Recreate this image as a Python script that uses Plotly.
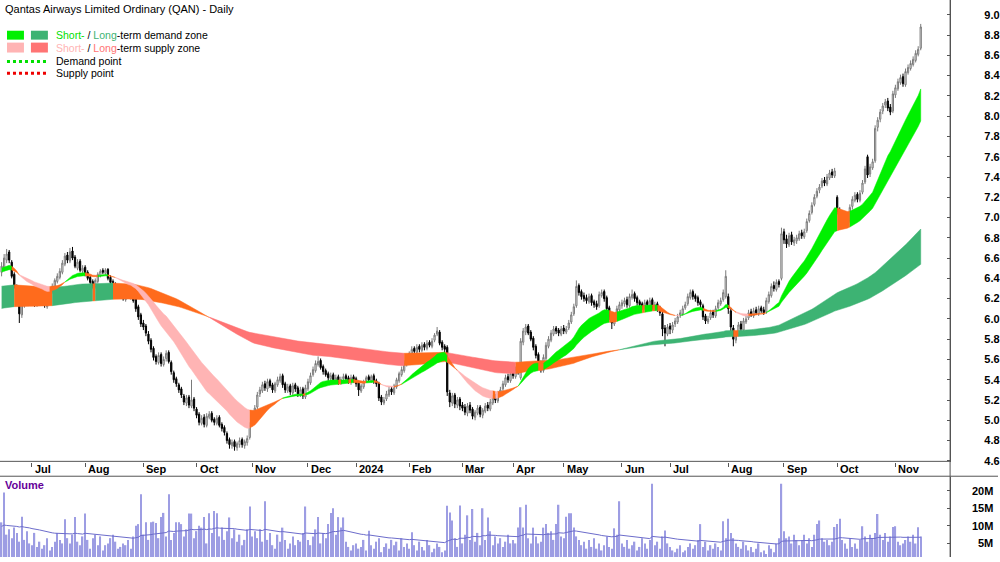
import numpy as np
import pandas as pd
import plotly.graph_objects as go

W, H = 1000, 562
FONT = "Liberation Sans, Arial, sans-serif"

# ---------------- data ----------------
start_date = "2023-06-15"
asx_holidays = ["2023-12-25", "2023-12-26", "2024-01-01", "2024-01-26",
                "2024-03-29", "2024-04-01", "2024-04-25", "2024-06-10"]

opens = [
    # Jun 2023
    6.46, 6.50, 6.58, 6.66, 6.56, 6.44, 6.32, 6.20, 6.04, 6.14, 6.24, 6.16,
    # Jul
    6.26, 6.22, 6.14, 6.25, 6.17, 6.23, 6.12, 6.18, 6.27, 6.31, 6.37, 6.41, 6.46, 6.54, 6.63, 6.57, 6.67, 6.61, 6.50, 6.57, 6.47,
    # Aug
    6.51, 6.46, 6.41, 6.37, 6.32, 6.37, 6.43, 6.48, 6.45, 6.49, 6.41, 6.37, 6.34, 6.31, 6.27, 6.25, 6.19, 6.26, 6.21, 6.29, 6.20, 6.12, 6.04,
    # Sep
    5.96, 5.93, 5.85, 5.79, 5.71, 5.63, 5.57, 5.65, 5.55, 5.61, 5.67, 5.57, 5.47, 5.41, 5.35, 5.31, 5.24, 5.17, 5.23, 5.14, 5.21,
    # Oct
    5.11, 5.06, 4.97, 5.03, 4.95, 5.03, 5.07, 5.01, 4.97, 5.03, 4.96, 4.93, 4.87, 4.81, 4.75, 4.79, 4.73, 4.76, 4.81, 4.75, 4.78, 4.83,
    # Nov
    4.96, 5.06, 5.13, 5.26, 5.29, 5.36, 5.31, 5.39, 5.35, 5.29, 5.35, 5.39, 5.44, 5.36, 5.29, 5.34, 5.27, 5.35, 5.32, 5.25, 5.31, 5.23,
    # Dec
    5.31, 5.37, 5.45, 5.49, 5.55, 5.59, 5.53, 5.49, 5.46, 5.41, 5.45, 5.39, 5.43, 5.37, 5.41, 5.44, 5.42, 5.38, 5.43,
    # Jan 2024
    5.41, 5.37, 5.29, 5.33, 5.39, 5.43, 5.39, 5.44, 5.39, 5.36, 5.23, 5.17, 5.21, 5.25, 5.31, 5.27, 5.33, 5.39, 5.45, 5.49, 5.55,
    # Feb
    5.61, 5.65, 5.71, 5.67, 5.73, 5.69, 5.75, 5.71, 5.77, 5.73, 5.79, 5.85, 5.87, 5.77, 5.73, 5.72, 5.27, 5.17, 5.25, 5.15, 5.21,
    # Mar
    5.15, 5.13, 5.07, 5.15, 5.11, 5.03, 5.07, 5.13, 5.05, 5.09, 5.15, 5.11, 5.17, 5.23, 5.19, 5.25, 5.31, 5.35, 5.43, 5.39,
    # Apr
    5.47, 5.43, 5.51, 5.42, 5.77, 5.87, 5.93, 5.87, 5.81, 5.73, 5.65, 5.57, 5.49, 5.61, 5.73, 5.79, 5.85, 5.91, 5.89, 5.85,
    # May
    5.91, 5.87, 5.91, 5.97, 6.05, 6.13, 6.33, 6.27, 6.23, 6.21, 6.17, 6.23, 6.17, 6.15, 6.13, 6.23, 6.27, 6.21, 6.11, 6.03, 5.95, 6.01, 6.09,
    # Jun
    6.13, 6.15, 6.19, 6.13, 6.21, 6.25, 6.21, 6.17, 6.15, 6.11, 6.17, 6.13, 6.19, 6.11, 6.15, 6.11, 6.05, 5.91, 5.85,
    # Jul
    5.93, 5.89, 5.95, 5.97, 6.03, 6.05, 6.11, 6.15, 6.21, 6.27, 6.23, 6.21, 6.17, 6.13, 6.03, 5.97, 6.01, 6.07, 6.03, 6.11, 6.15, 6.19, 6.22,
    # Aug
    6.22, 6.08, 5.91, 5.79, 5.85, 5.95, 5.89, 5.97, 6.01, 6.07, 6.03, 6.09, 6.05, 6.11, 6.09, 6.07, 6.17, 6.23, 6.33, 6.29, 6.37, 6.40,
    # Sep
    6.86, 6.79, 6.73, 6.83, 6.75, 6.77, 6.79, 6.85, 6.81, 6.87, 6.97, 7.05, 7.13, 7.21, 7.27, 7.31, 7.37, 7.33, 7.39, 7.45, 7.41,
    # Oct
    7.20, 7.07, 7.01, 6.97, 7.03, 6.97, 7.11, 7.17, 7.23, 7.17, 7.25, 7.35, 7.60, 7.43, 7.49, 7.56, 7.89, 7.97, 8.05, 8.11, 8.15, 8.09, 8.05,
    # Nov
    8.21, 8.27, 8.33, 8.39, 8.31, 8.43, 8.47, 8.51, 8.55, 8.61, 8.67,
]

highs = [
    6.56, 6.64, 6.69, 6.68, 6.58, 6.46, 6.34, 6.22, 6.19, 6.26, 6.27, 6.29,
    6.29, 6.25, 6.27, 6.28, 6.25, 6.25, 6.22, 6.30, 6.35, 6.40, 6.45, 6.50, 6.58, 6.65, 6.66, 6.70, 6.71, 6.63, 6.59, 6.59, 6.53,
    6.53, 6.48, 6.43, 6.39, 6.40, 6.46, 6.49, 6.50, 6.50, 6.50, 6.43, 6.39, 6.36, 6.33, 6.29, 6.27, 6.27, 6.28, 6.31, 6.31, 6.22, 6.14, 6.06,
    5.99, 5.95, 5.88, 5.81, 5.73, 5.65, 5.67, 5.67, 5.63, 5.69, 5.69, 5.59, 5.49, 5.43, 5.37, 5.33, 5.26, 5.25, 5.25, 5.40, 5.23,
    5.13, 5.08, 5.05, 5.06, 5.07, 5.09, 5.09, 5.03, 5.05, 5.05, 4.98, 4.95, 4.89, 4.83, 4.81, 4.81, 4.79, 4.83, 4.83, 4.81, 4.85, 4.98,
    5.08, 5.15, 5.28, 5.33, 5.38, 5.39, 5.41, 5.41, 5.37, 5.38, 5.43, 5.46, 5.46, 5.38, 5.36, 5.36, 5.37, 5.37, 5.34, 5.33, 5.33, 5.35,
    5.41, 5.47, 5.53, 5.59, 5.63, 5.61, 5.55, 5.51, 5.48, 5.47, 5.47, 5.45, 5.45, 5.43, 5.46, 5.46, 5.44, 5.45, 5.45,
    5.43, 5.39, 5.36, 5.40, 5.44, 5.45, 5.45, 5.46, 5.41, 5.38, 5.25, 5.23, 5.29, 5.33, 5.33, 5.36, 5.42, 5.48, 5.53, 5.59, 5.63,
    5.68, 5.73, 5.73, 5.75, 5.75, 5.77, 5.77, 5.79, 5.79, 5.81, 5.86, 5.92, 5.89, 5.79, 5.75, 5.74, 5.30, 5.27, 5.27, 5.23, 5.23,
    5.18, 5.16, 5.17, 5.18, 5.13, 5.10, 5.15, 5.15, 5.12, 5.17, 5.18, 5.21, 5.25, 5.26, 5.29, 5.33, 5.39, 5.45, 5.46, 5.49,
    5.50, 5.53, 5.54, 5.81, 5.91, 5.95, 5.95, 5.89, 5.83, 5.75, 5.67, 5.59, 5.65, 5.77, 5.83, 5.89, 5.93, 5.93, 5.91, 5.93,
    5.94, 5.93, 5.99, 6.07, 6.15, 6.38, 6.35, 6.29, 6.26, 6.24, 6.25, 6.25, 6.19, 6.18, 6.27, 6.29, 6.29, 6.23, 6.13, 6.05, 6.03, 6.13, 6.17,
    6.19, 6.21, 6.22, 6.25, 6.29, 6.27, 6.23, 6.19, 6.17, 6.19, 6.19, 6.21, 6.21, 6.17, 6.17, 6.13, 6.07, 5.94, 5.95,
    5.96, 5.97, 6.01, 6.05, 6.09, 6.13, 6.17, 6.25, 6.29, 6.29, 6.25, 6.23, 6.19, 6.15, 6.05, 6.03, 6.09, 6.09, 6.13, 6.19, 6.21, 6.29, 6.48,
    6.25, 6.11, 5.94, 5.87, 5.97, 5.98, 6.01, 6.03, 6.09, 6.10, 6.11, 6.12, 6.13, 6.13, 6.12, 6.21, 6.27, 6.35, 6.37, 6.39, 6.39, 6.90,
    6.89, 6.83, 6.85, 6.86, 6.81, 6.83, 6.87, 6.88, 6.89, 6.99, 7.07, 7.15, 7.23, 7.29, 7.33, 7.39, 7.40, 7.43, 7.47, 7.48, 7.49,
    7.22, 7.10, 7.04, 7.05, 7.05, 7.13, 7.21, 7.25, 7.25, 7.27, 7.37, 7.51, 7.62, 7.53, 7.58, 7.91, 7.99, 8.07, 8.13, 8.17, 8.18, 8.12, 8.25,
    8.31, 8.37, 8.41, 8.42, 8.47, 8.51, 8.55, 8.59, 8.65, 8.69, 8.91,
]

lows = [
    6.42, 6.47, 6.55, 6.55, 6.40, 6.30, 6.17, 5.96, 6.01, 6.11, 6.14, 6.13,
    6.17, 6.12, 6.12, 6.16, 6.15, 6.11, 6.10, 6.16, 6.25, 6.29, 6.35, 6.39, 6.44, 6.52, 6.55, 6.55, 6.58, 6.50, 6.48, 6.46, 6.44,
    6.42, 6.38, 6.33, 6.30, 6.30, 6.35, 6.41, 6.44, 6.43, 6.38, 6.34, 6.31, 6.28, 6.24, 6.21, 6.18, 6.17, 6.20, 6.19, 6.16, 6.07, 5.99, 5.92,
    5.89, 5.83, 5.75, 5.67, 5.59, 5.55, 5.55, 5.53, 5.53, 5.58, 5.56, 5.45, 5.37, 5.33, 5.27, 5.22, 5.15, 5.14, 5.12, 5.12, 5.09,
    5.02, 4.95, 4.95, 4.93, 4.93, 5.01, 4.98, 4.95, 4.95, 4.93, 4.89, 4.85, 4.77, 4.72, 4.72, 4.70, 4.70, 4.73, 4.73, 4.72, 4.75, 4.81,
    4.94, 5.03, 5.11, 5.23, 5.27, 5.29, 5.28, 5.32, 5.27, 5.27, 5.33, 5.37, 5.32, 5.27, 5.27, 5.25, 5.25, 5.28, 5.23, 5.23, 5.21, 5.21,
    5.29, 5.35, 5.43, 5.47, 5.53, 5.50, 5.45, 5.43, 5.39, 5.39, 5.37, 5.37, 5.35, 5.35, 5.38, 5.38, 5.36, 5.35, 5.37,
    5.33, 5.24, 5.27, 5.31, 5.37, 5.38, 5.37, 5.36, 5.33, 5.19, 5.15, 5.15, 5.19, 5.23, 5.25, 5.25, 5.31, 5.37, 5.43, 5.47, 5.53,
    5.59, 5.63, 5.65, 5.65, 5.67, 5.67, 5.69, 5.69, 5.72, 5.71, 5.77, 5.83, 5.74, 5.69, 5.67, 5.24, 5.13, 5.14, 5.12, 5.12, 5.10,
    5.09, 5.05, 5.04, 5.07, 5.01, 5.00, 5.05, 5.03, 5.02, 5.07, 5.09, 5.09, 5.15, 5.17, 5.17, 5.23, 5.29, 5.33, 5.37, 5.37,
    5.41, 5.41, 5.45, 5.40, 5.74, 5.84, 5.84, 5.78, 5.69, 5.61, 5.53, 5.47, 5.47, 5.59, 5.71, 5.77, 5.83, 5.85, 5.83, 5.83,
    5.85, 5.85, 5.89, 5.95, 6.03, 6.11, 6.23, 6.19, 6.17, 6.15, 6.15, 6.13, 6.11, 6.09, 6.11, 6.21, 6.17, 6.07, 5.99, 5.90, 5.93, 5.99, 6.07,
    6.10, 6.12, 6.11, 6.11, 6.19, 6.17, 6.13, 6.11, 6.09, 6.09, 6.11, 6.11, 6.09, 6.08, 6.07, 6.03, 5.83, 5.73, 5.83,
    5.85, 5.86, 5.92, 5.95, 6.01, 6.03, 6.09, 6.13, 6.19, 6.19, 6.17, 6.13, 6.11, 5.99, 5.95, 5.95, 5.99, 6.01, 6.01, 6.09, 6.13, 6.17, 6.20,
    6.05, 5.88, 5.73, 5.76, 5.83, 5.87, 5.87, 5.95, 5.99, 6.02, 6.01, 6.04, 6.03, 6.06, 6.04, 6.05, 6.15, 6.21, 6.27, 6.27, 6.31, 6.38,
    6.74, 6.70, 6.71, 6.73, 6.72, 6.74, 6.77, 6.79, 6.79, 6.85, 6.95, 7.03, 7.11, 7.19, 7.24, 7.29, 7.31, 7.31, 7.37, 7.39, 7.39,
    7.03, 6.97, 6.94, 6.94, 6.93, 6.95, 7.08, 7.15, 7.15, 7.15, 7.23, 7.33, 7.39, 7.40, 7.47, 7.54, 7.85, 7.94, 8.02, 8.08, 8.05, 8.01, 8.03,
    8.18, 8.25, 8.31, 8.29, 8.29, 8.41, 8.45, 8.49, 8.53, 8.59, 8.65,
]

closes = [
    6.52, 6.60, 6.64, 6.58, 6.42, 6.33, 6.20, 6.05, 6.16, 6.22, 6.18, 6.25,
    6.20, 6.15, 6.24, 6.18, 6.22, 6.14, 6.19, 6.28, 6.32, 6.38, 6.42, 6.47, 6.55, 6.62, 6.58, 6.66, 6.60, 6.52, 6.56, 6.48, 6.50,
    6.45, 6.40, 6.36, 6.33, 6.38, 6.44, 6.47, 6.46, 6.48, 6.40, 6.36, 6.33, 6.30, 6.26, 6.24, 6.20, 6.25, 6.22, 6.28, 6.18, 6.10, 6.02, 5.95,
    5.92, 5.86, 5.78, 5.70, 5.62, 5.58, 5.64, 5.56, 5.60, 5.66, 5.58, 5.48, 5.40, 5.36, 5.30, 5.25, 5.18, 5.22, 5.15, 5.20, 5.12,
    5.05, 4.98, 5.02, 4.96, 5.04, 5.06, 5.00, 4.98, 5.02, 4.95, 4.92, 4.88, 4.80, 4.76, 4.78, 4.74, 4.77, 4.80, 4.76, 4.79, 4.82, 4.95,
    5.05, 5.12, 5.25, 5.30, 5.35, 5.32, 5.38, 5.34, 5.30, 5.36, 5.40, 5.43, 5.35, 5.30, 5.33, 5.28, 5.34, 5.31, 5.26, 5.30, 5.24, 5.32,
    5.38, 5.44, 5.50, 5.56, 5.58, 5.52, 5.48, 5.45, 5.42, 5.44, 5.40, 5.42, 5.38, 5.40, 5.43, 5.41, 5.39, 5.42, 5.40,
    5.36, 5.30, 5.34, 5.38, 5.42, 5.40, 5.43, 5.38, 5.36, 5.22, 5.18, 5.20, 5.26, 5.30, 5.28, 5.34, 5.40, 5.46, 5.50, 5.56, 5.60,
    5.66, 5.70, 5.68, 5.72, 5.70, 5.74, 5.72, 5.76, 5.74, 5.78, 5.84, 5.88, 5.76, 5.72, 5.70, 5.28, 5.18, 5.24, 5.16, 5.20, 5.14,
    5.12, 5.08, 5.14, 5.10, 5.04, 5.08, 5.12, 5.06, 5.10, 5.14, 5.12, 5.18, 5.22, 5.20, 5.26, 5.30, 5.36, 5.42, 5.40, 5.46,
    5.44, 5.50, 5.48, 5.78, 5.88, 5.92, 5.86, 5.80, 5.72, 5.64, 5.56, 5.50, 5.62, 5.74, 5.80, 5.86, 5.90, 5.88, 5.86, 5.90,
    5.88, 5.90, 5.96, 6.04, 6.12, 6.32, 6.26, 6.22, 6.20, 6.18, 6.22, 6.16, 6.14, 6.12, 6.24, 6.26, 6.20, 6.10, 6.02, 5.96, 6.00, 6.10, 6.14,
    6.16, 6.18, 6.14, 6.22, 6.24, 6.20, 6.16, 6.14, 6.12, 6.16, 6.14, 6.18, 6.12, 6.14, 6.10, 6.06, 5.90, 5.86, 5.92,
    5.90, 5.94, 5.98, 6.02, 6.06, 6.10, 6.14, 6.22, 6.26, 6.22, 6.20, 6.16, 6.14, 6.02, 5.98, 6.00, 6.06, 6.04, 6.10, 6.16, 6.18, 6.26, 6.42,
    6.10, 5.92, 5.80, 5.84, 5.94, 5.90, 5.98, 6.00, 6.06, 6.04, 6.08, 6.06, 6.10, 6.08, 6.06, 6.18, 6.24, 6.32, 6.30, 6.36, 6.34, 6.84,
    6.78, 6.74, 6.82, 6.76, 6.78, 6.80, 6.84, 6.82, 6.86, 6.96, 7.04, 7.12, 7.20, 7.26, 7.30, 7.36, 7.34, 7.40, 7.44, 7.42, 7.46,
    7.06, 7.00, 6.98, 7.02, 6.96, 7.10, 7.18, 7.22, 7.18, 7.24, 7.34, 7.48, 7.42, 7.50, 7.55, 7.88, 7.96, 8.04, 8.10, 8.14, 8.08, 8.04, 8.22,
    8.28, 8.34, 8.38, 8.32, 8.44, 8.48, 8.52, 8.56, 8.62, 8.66, 8.88,
]

volumes_m = [
    11.0, 19.5, 7.5, 9.0, 6.5, 9.5, 8.0, 5.5, 12.6, 6.0, 8.5, 5.0,
    4.5, 8.0, 4.0, 5.5, 3.5, 4.5, 6.5, 3.0, 4.0, 5.5, 8.0, 6.0, 5.0, 11.9, 6.5, 5.0, 7.5, 12.5, 5.5, 4.5, 7.0,
    13.5, 6.0, 3.5, 6.5, 7.5, 4.5, 7.0, 3.0, 4.5, 5.0, 6.5, 7.5, 5.5, 3.5, 4.0, 5.0, 4.5, 6.0, 3.5, 7.0, 10.0, 10.5, 19.0,
    7.5, 11.0, 6.0, 11.0, 11.2, 10.8, 6.5, 12.5, 13.7, 7.0, 19.0, 6.0, 8.0, 11.0, 11.0, 10.5, 7.0, 9.0, 13.5, 13.5, 6.5,
    8.5, 10.0, 9.5, 12.5, 5.0, 13.6, 8.0, 14.2, 13.6, 7.0, 9.5, 6.0, 8.5, 12.4, 6.5, 9.0, 5.5, 7.5, 4.5, 6.0, 9.0, 15.5,
    7.0, 8.5, 6.5, 9.0, 5.5, 17.0, 6.0, 8.0, 4.5, 3.5, 7.5, 5.5, 9.5, 6.0, 3.5, 5.0, 7.0, 4.5, 6.0, 5.5, 8.0, 15.5,
    6.0, 4.5, 7.0, 9.0, 12.5, 5.0, 8.0, 6.5, 10.5, 13.7, 15.0, 7.5, 12.5, 9.5, 12.4, 5.5, 4.0, 3.0, 4.5,
    5.0, 3.5, 4.0, 6.0, 3.0, 8.6, 4.5, 3.5, 5.5, 6.5, 2.5, 4.0, 5.0, 3.5, 6.0, 4.5, 5.5, 3.0, 6.5, 4.0, 5.0,
    3.5, 8.2, 4.5, 3.0, 5.5, 4.0, 3.0, 6.0, 4.5, 2.5, 3.5, 5.0, 4.0, 2.5, 3.0, 15.7, 13.8, 11.5, 6.5, 4.0, 15.8,
    5.0, 7.5, 13.0, 6.0, 14.8, 5.5, 8.0, 4.5, 15.0, 6.0, 12.4, 8.5, 4.5, 7.0, 5.0, 6.5, 4.0, 5.5, 7.5, 5.0,
    6.0, 5.0, 9.5, 15.3, 9.5, 16.0, 6.5, 5.0, 9.5, 7.0, 5.0, 5.5, 9.5, 10.5, 8.0, 8.5, 6.0, 10.5, 16.0, 7.0,
    6.5, 12.6, 13.6, 13.6, 9.5, 7.0, 6.0, 4.5, 5.5, 3.5, 6.0, 4.0, 6.5, 3.5, 5.0, 3.0, 4.5, 7.0, 4.0, 3.5, 9.3, 7.5, 17.0,
    5.0, 4.0, 6.0, 3.5, 4.5, 5.5, 3.0, 4.0, 6.5, 5.0, 3.5, 6.0, 22.0, 4.5, 5.5, 3.5, 7.0, 8.7, 5.0,
    4.0, 3.0, 2.5, 3.5, 4.5, 2.5, 3.0, 4.0, 5.0, 3.5, 4.5, 6.0, 10.5, 4.0, 5.5, 3.0, 4.5, 3.5, 5.0, 4.0, 3.0, 11.3, 6.5,
    12.0, 8.0, 6.5, 5.0, 4.0, 3.5, 5.5, 4.5, 3.0, 4.0, 2.5, 3.5, 5.0, 2.5, 3.0, 2.0, 4.5, 3.5, 2.5, 5.0, 6.5, 22.0,
    8.5, 6.5, 7.0, 5.0, 7.5, 6.0, 4.5, 6.0, 7.5, 5.0, 6.5, 4.0, 7.5, 10.5, 11.5, 6.5, 5.5, 6.0, 4.5, 5.5, 9.7,
    10.5, 12.0, 6.0, 5.0, 3.5, 6.5, 4.0, 5.0, 3.5, 6.0, 9.9, 7.0, 5.5, 7.5, 6.5, 8.0, 13.4, 7.5, 6.0, 8.0, 5.5, 7.0, 9.7,
    9.9, 5.5, 4.5, 5.0, 6.0, 7.0, 5.5, 7.5, 5.0, 9.6, 7.0,
]

month_abbr = ["2024", "Feb", "Mar", "Apr", "May", "Jun", "Jul", "Aug", "Sep", "Oct", "Nov", "Dec"]
price_tick_values = [4.6, 4.8, 5.0, 5.2, 5.4, 5.6, 5.8, 6.0, 6.2, 6.4, 6.6, 6.8,
                     7.0, 7.2, 7.4, 7.6, 7.8, 8.0, 8.2, 8.4, 8.6, 8.8, 9.0]
price_tick_labels = ["4.6", "4.8", "5.0", "5.2", "5.4", "5.6", "5.8", "6.0", "6.2", "6.4", "6.6", "6.8",
                     "7.0", "7.2", "7.4", "7.6", "7.8", "8.0", "8.2", "8.4", "8.6", "8.8", "9.0"]
volume_tick_values = [5e6, 10e6, 15e6, 20e6]
volume_tick_labels = ["5M", "10M", "15M", "20M"]

# zone settings (EMA spans) and EMA starting levels read at the left edge
short_fast_span, short_slow_span = 20, 35
long_fast_span, long_slow_span = 140, 230
seed_short_fast, seed_short_slow = 6.50, 6.46
seed_long_fast, seed_long_slow = 6.32, 6.10
volume_ma_span, seed_volume_ma = 50, 9.8e6

# ---------------- preparation ----------------
n = min(len(opens), len(highs), len(lows), len(closes), len(volumes_m))
opens, highs, lows, closes = opens[:n], highs[:n], lows[:n], closes[:n]
volumes = [v * 1e6 for v in volumes_m[:n]]
all_days = pd.bdate_range(start_date, "2024-12-31")
days = [d for d in all_days if d.strftime("%Y-%m-%d") not in asx_holidays][:n]
xi = list(range(n))


def ema(values, span, seed):
    a = 2.0 / (span + 1.0)
    out, e = [], seed
    for v in values:
        e = e + a * (v - e)
        out.append(e)
    return out


sf = ema(closes, short_fast_span, seed_short_fast)
ss = ema(closes, short_slow_span, seed_short_slow)
lf = ema(closes, long_fast_span, seed_long_fast)
ls = ema(closes, long_slow_span, seed_long_slow)
vol_ma = ema(volumes, volume_ma_span, seed_volume_ma)

C_SHORT = {"up": "#00F000", "down": "#FFB4B4", "mid": "#FF6B1C"}
C_LONG = {"up": "#3DB373", "down": "#FF7474", "mid": "#FF6B1C"}

fig = go.Figure()


def add_band(fast, slow, colors):
    st = []
    for f, s, c in zip(fast, slow, closes):
        if f >= s and c >= f:
            st.append("up")
        elif f < s and c <= f:
            st.append("down")
        else:
            st.append("mid")
    a = 0
    segs = []
    for i in range(1, len(st) + 1):
        if i == len(st) or st[i] != st[a]:
            segs.append((a, i - 1, st[a]))
            a = i
    for a, b, s in segs:
        idx = list(range(a, min(b + 1, len(st) - 1) + 1))
        xs = [float(k) for k in idx] + [float(k) for k in idx[::-1]]
        ys = [fast[k] for k in idx] + [slow[k] for k in idx[::-1]]
        fig.add_trace(go.Scatter(x=xs, y=ys, mode="lines", fill="toself",
                                 fillcolor=colors[s], line=dict(width=0.5, color=colors[s]),
                                 hoverinfo="skip", showlegend=False, xaxis="x", yaxis="y"))


add_band(lf, ls, C_LONG)
add_band(sf, ss, C_SHORT)

fig.add_trace(go.Candlestick(
    x=xi, open=opens, high=highs, low=lows, close=closes,
    increasing=dict(line=dict(color="#7A7A7A", width=1), fillcolor="#FFFFFF"),
    decreasing=dict(line=dict(color="#000000", width=1), fillcolor="#000000"),
    whiskerwidth=0, showlegend=False, xaxis="x", yaxis="y"))

fig.add_trace(go.Bar(x=xi, y=volumes, width=0.55,
                     marker=dict(color="#9D9DE3", line=dict(width=0)),
                     showlegend=False, xaxis="x2", yaxis="y2", hoverinfo="skip"))
fig.add_trace(go.Scatter(x=xi, y=vol_ma, mode="lines", line=dict(color="#6C6CCB", width=1),
                         showlegend=False, xaxis="x2", yaxis="y2", hoverinfo="skip"))

# month starts
month_idx, month_txt = [], []
for i in range(1, n):
    if days[i].month != days[i - 1].month:
        month_idx.append(i)
        month_txt.append(month_abbr[days[i].month - 1])


def py(pix):
    return 1.0 - pix / H


PLOT_RIGHT = 952 / W
price_bottom = py(466)
vol_top = py(481)
x_range = [-0.63, 374.6]

fig.update_layout(
    width=W, height=H, margin=dict(l=0, r=0, t=0, b=0),
    paper_bgcolor="white", plot_bgcolor="white", showlegend=False,
    font=dict(family=FONT, color="black"),
    xaxis=dict(domain=[0, PLOT_RIGHT], range=x_range, anchor="y", showgrid=False, zeroline=False,
               showline=False, tickvals=month_idx, ticks="outside", ticklen=4, tickcolor="#555555",
               showticklabels=False, rangeslider=dict(visible=False), fixedrange=True),
    yaxis=dict(domain=[price_bottom, 1], range=[4.59, 9.146], side="right", anchor="x",
               showgrid=False, zeroline=False, tickvals=price_tick_values, ticktext=price_tick_labels,
               ticks="inside", ticklen=3, tickcolor="#555555", showline=True, linecolor="#555555",
               tickfont=dict(family=FONT, size=11, color="black", weight="bold"),
               ticklabelstandoff=31),
    xaxis2=dict(domain=[0, PLOT_RIGHT], range=x_range, anchor="y2", showgrid=False, zeroline=False,
                showline=False, showticklabels=False, ticks=""),
    yaxis2=dict(domain=[0, vol_top], range=[1.13e6, 24.0e6], side="right", anchor="x2",
                showgrid=False, zeroline=False, tickvals=volume_tick_values,
                ticks="inside", ticklen=3, tickcolor="#555555", showline=True, linecolor="#555555",
                showticklabels=False),
)

shapes = [
    dict(type="line", xref="paper", yref="paper", x0=0, x1=PLOT_RIGHT, y0=py(465.5), y1=py(465.5),
         line=dict(color="#555555", width=1)),
    dict(type="line", xref="paper", yref="paper", x0=0, x1=1, y0=py(480.5), y1=py(480.5),
         line=dict(color="#555555", width=1)),
    dict(type="line", xref="paper", yref="paper", x0=PLOT_RIGHT, x1=PLOT_RIGHT, y0=0, y1=1,
         line=dict(color="#555555", width=1)),
    # legend swatches
    dict(type="rect", xref="paper", yref="paper", x0=7 / W, x1=24 / W, y0=py(40), y1=py(31),
         fillcolor=C_SHORT["up"], line=dict(width=0)),
    dict(type="rect", xref="paper", yref="paper", x0=31 / W, x1=48 / W, y0=py(40), y1=py(31),
         fillcolor=C_LONG["up"], line=dict(width=0)),
    dict(type="rect", xref="paper", yref="paper", x0=7 / W, x1=24 / W, y0=py(53), y1=py(43),
         fillcolor=C_SHORT["down"], line=dict(width=0)),
    dict(type="rect", xref="paper", yref="paper", x0=31 / W, x1=48 / W, y0=py(53), y1=py(43),
         fillcolor=C_LONG["down"], line=dict(width=0)),
    dict(type="line", xref="paper", yref="paper", x0=7 / W, x1=48 / W, y0=py(62), y1=py(62),
         line=dict(color="#00E000", width=3, dash="dot")),
    dict(type="line", xref="paper", yref="paper", x0=7 / W, x1=48 / W, y0=py(74), y1=py(74),
         line=dict(color="#EE0000", width=3, dash="dot")),
]
fig.update_layout(shapes=shapes)

LEG = 10.5
ann = [
    dict(text="Qantas Airways Limited Ordinary (QAN) - Daily", x=3 / W, y=py(9), xref="paper", yref="paper",
         xanchor="left", yanchor="middle", showarrow=False, font=dict(size=11, family=FONT, color="black")),
    dict(text="<span style='color:#00E000'>Short-</span> / <span style='color:#3DB373'>Long</span>-term demand zone",
         x=54 / W, y=py(35.5), xref="paper", yref="paper", xanchor="left", yanchor="middle", showarrow=False,
         font=dict(size=LEG, family=FONT, color="black")),
    dict(text="<span style='color:#FFB4B4'>Short-</span> / <span style='color:#FF7474'>Long</span>-term supply zone",
         x=54 / W, y=py(48), xref="paper", yref="paper", xanchor="left", yanchor="middle", showarrow=False,
         font=dict(size=LEG, family=FONT, color="black")),
    dict(text="Demand point", x=54 / W, y=py(62), xref="paper", yref="paper", xanchor="left", yanchor="middle",
         showarrow=False, font=dict(size=LEG, family=FONT, color="black")),
    dict(text="Supply point", x=54 / W, y=py(74), xref="paper", yref="paper", xanchor="left", yanchor="middle",
         showarrow=False, font=dict(size=LEG, family=FONT, color="black")),
    dict(text="<b>Volume</b>", x=3 / W, y=py(489), xref="paper", yref="paper", xanchor="left", yanchor="middle",
         showarrow=False, font=dict(size=11, family=FONT, color="#660099")),
]
for mi, mt in zip(month_idx, month_txt):
    ann.append(dict(text="<b>" + mt + "</b>", x=mi, y=py(473), xref="x", yref="paper", xanchor="left",
                    yanchor="middle", xshift=1, showarrow=False,
                    font=dict(size=11, family=FONT, color="black")))
for vv, vt in zip(volume_tick_values, volume_tick_labels):
    ann.append(dict(text="<b>" + vt + "</b>", x=997 / W, y=vv, xref="paper", yref="y2", xanchor="right",
                    yanchor="middle", showarrow=False, font=dict(size=11, family=FONT, color="black")))
fig.update_layout(annotations=ann)

fig.write_html("out.html")
